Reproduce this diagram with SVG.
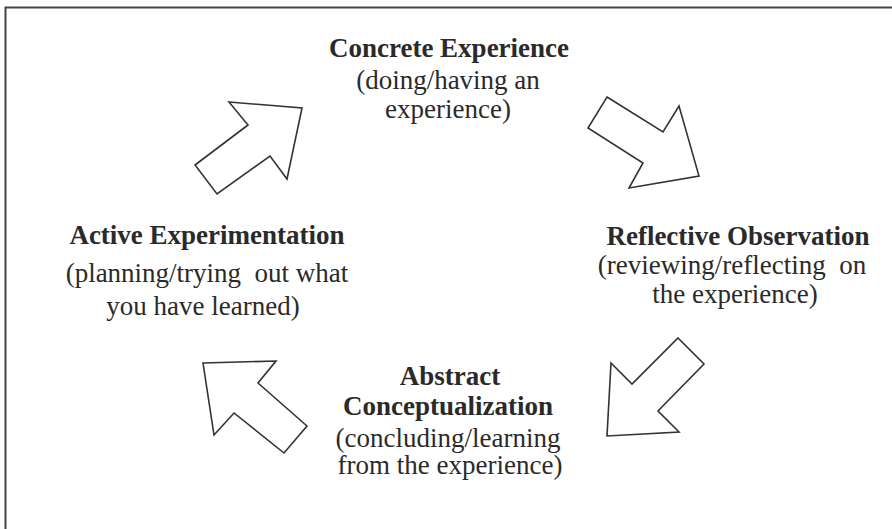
<svg xmlns="http://www.w3.org/2000/svg" width="892" height="529" viewBox="0 0 892 529">
<style>
text{font-family:"Liberation Serif","Times New Roman",serif;font-size:27px;fill:#2a2a2a;text-anchor:middle;white-space:pre}
.h{font-weight:bold}
.arrow{fill:#fff;stroke:#333;stroke-width:1.6;stroke-linejoin:miter}
</style>
<rect x="0" y="0" width="892" height="529" fill="#fff"/>
<path d="M5.5,540 V7.5 H900" fill="none" stroke="#444" stroke-width="2"/>
<g id="concrete">
<text class="h" x="449" y="57">Concrete Experience</text>
<text x="448" y="89">(doing/having an</text>
<text x="448" y="118">experience)</text>
</g>
<g id="reflective">
<text class="h" x="738" y="245">Reflective Observation</text>
<text x="732" y="274">(reviewing/reflecting  on</text>
<text x="735" y="303">the experience)</text>
</g>
<g id="abstract">
<text class="h" x="450" y="385">Abstract</text>
<text class="h" x="448" y="415">Conceptualization</text>
<text x="448" y="447">(concluding/learning</text>
<text x="450" y="474">from the experience)</text>
</g>
<g id="active">
<text class="h" x="207" y="244">Active Experimentation</text>
<text x="207" y="282">(planning/trying  out what</text>
<text x="203" y="315">you have learned)</text>
</g>
<g id="connectors">
<polygon class="arrow" points="229,102 302,108 287,179 270,156 217,194 195,165 248,125"/>
<polygon class="arrow" points="607,97 663,132 679,106 699,176 629,188 643,163 588,128"/>
<polygon class="arrow" points="678,338 704,364 658,411 679,432 607,436 611,363 632,384"/>
<polygon class="arrow" points="203,363 276,361 258,383 307,426 284,453 234,413 214,435"/>
</g>
</svg>
